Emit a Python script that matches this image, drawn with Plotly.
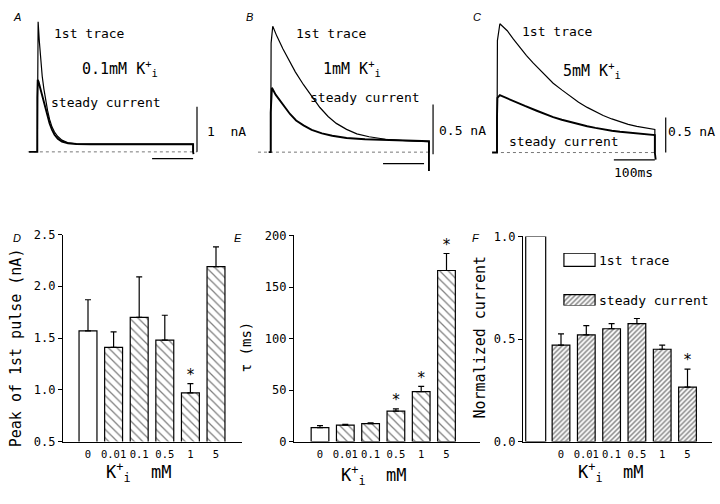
import plotly.graph_objects as go

W, H = 720, 504
FONT = "DejaVu Sans Mono"

# ---------------- data: bar panels ----------------
conc_labels = ["0", "0.01", "0.1", "0.5", "1", "5"]
peak_mean = [1.57, 1.41, 1.70, 1.48, 0.97, 2.19]
peak_sem = [0.30, 0.15, 0.39, 0.24, 0.09, 0.19]
peak_sig = [False, False, False, False, True, False]
tau_mean = [13.5, 16.0, 17.5, 29.5, 48.5, 166.0]
tau_sem = [2.0, 0.8, 0.6, 2.2, 5.0, 16.5]
tau_sig = [False, False, False, True, True, True]
norm_first = 1.0
norm_mean = [0.47, 0.52, 0.55, 0.575, 0.45, 0.265]
norm_sem = [0.055, 0.045, 0.025, 0.025, 0.02, 0.088]
norm_sig = [False, False, False, False, False, True]

# ---------------- data: current traces (time in ms, current in nA) ----------------
A_first_t = [0, 0.5, 2, 5, 8, 12, 16, 20, 25, 30, 36, 42, 50, 60, 75, 95, 130, 200, 300, 380, 380]
A_first_i = [0, 2.5, 2.89, 2.45, 2.08, 1.68, 1.40, 1.15, 0.92, 0.72, 0.55, 0.44, 0.34, 0.26, 0.20, 0.18, 0.17, 0.17, 0.17, 0.17, 0]
A_steady_t = [-20, 0, 0, 1, 3, 6, 10, 15, 20, 25, 30, 36, 42, 50, 60, 75, 95, 130, 250, 380, 380, 381]
A_steady_i = [0, 0, 1.2, 1.6, 1.56, 1.45, 1.30, 1.12, 0.95, 0.78, 0.63, 0.49, 0.38, 0.29, 0.23, 0.19, 0.175, 0.17, 0.17, 0.17, 0, -0.05]

B_first_t = [0, 1, 5, 15, 30, 45, 60, 80, 100, 120, 140, 160, 185, 210, 240, 280, 330, 386, 386]
B_first_i = [0, 1.1, 1.27, 1.17, 1.04, 0.92, 0.81, 0.68, 0.56, 0.45, 0.36, 0.29, 0.23, 0.185, 0.155, 0.13, 0.115, 0.105, 0]
B_steady_t = [-5, 0, 0, 1, 3, 12, 23, 35, 47, 62, 80, 100, 125, 150, 185, 230, 300, 386, 386]
B_steady_i = [0, 0, 0.4, 0.6, 0.65, 0.58, 0.515, 0.45, 0.385, 0.32, 0.27, 0.225, 0.19, 0.165, 0.143, 0.13, 0.118, 0.11, -0.19]

C_first_t = [0, 1, 7, 25, 40, 56, 72, 88, 105, 121, 137, 158, 178, 199, 220, 240, 259, 280, 300, 320, 341, 363, 385, 385]
C_first_i = [0, 1.6, 1.84, 1.74, 1.62, 1.50, 1.385, 1.28, 1.18, 1.08, 0.99, 0.895, 0.805, 0.72, 0.645, 0.585, 0.53, 0.48, 0.436, 0.403, 0.375, 0.35, 0.33, 0]
C_steady_t = [-12, 0, 0, 1, 7, 20, 40, 68, 97, 117, 137, 158, 178, 199, 220, 240, 259, 280, 300, 320, 341, 363, 385, 385, 387]
C_steady_i = [0, 0, 0.5, 0.78, 0.82, 0.785, 0.736, 0.665, 0.597, 0.55, 0.505, 0.468, 0.436, 0.404, 0.375, 0.352, 0.33, 0.312, 0.297, 0.285, 0.274, 0.262, 0.25, 0, -0.1]

scale_ms = 100
scale_nA = {"A": 1.0, "B": 0.5, "C": 0.5}


# ---------------- helpers ----------------
def px_x(p):
    return p / W


def px_y(p):
    return 1 - p / H


def dom_x(l, r):
    return [l / W, r / W]


def dom_y(t, b):
    return [1 - b / H, 1 - t / H]


def xr(l, r, p0, ppu):
    return [(l - p0) / ppu, (r - p0) / ppu]


def yr(t, b, p0, ppu):
    return [(p0 - b) / ppu, (p0 - t) / ppu]


fig = go.Figure()
layout = dict(
    width=W, height=H, autosize=False,
    margin=dict(l=0, r=0, t=0, b=0),
    paper_bgcolor="white", plot_bgcolor="rgba(0,0,0,0)",
    showlegend=False,
    font=dict(family=FONT, size=13, color="black"),
)
annotations = []


def ann(text, x, y, size=13, xanchor="center", yanchor="middle", angle=0, family=FONT, italic=False):
    annotations.append(dict(
        text=text, x=px_x(x), y=px_y(y), xref="paper", yref="paper",
        xanchor=xanchor, yanchor=yanchor, showarrow=False, textangle=angle,
        font=dict(family=family, size=size, color="black", style="italic" if italic else "normal"),
    ))


# ---------------- top panels: current traces ----------------
ms_px = 0.41
top = [
    dict(key="A", n="", xdom=(0, 240), t0=37.3, i0=149.0, nApx=46.3,
         first=(A_first_t, A_first_i), steady=(A_steady_t, A_steady_i),
         base=(-23, 390), vbar=(389.5, 0.0), hbar=(-0.15, 380)),
    dict(key="B", n="2", xdom=(240, 480), t0=270.7, i0=149.3, nApx=102.0,
         first=(B_first_t, B_first_i), steady=(B_steady_t, B_steady_i),
         base=(-31, 388), vbar=(396, -0.02), hbar=(-0.115, 374)),
    dict(key="C", n="3", xdom=(480, 720), t0=497.0, i0=149.7, nApx=72.0,
         first=(C_first_t, C_first_i), steady=(C_steady_t, C_steady_i),
         base=(-5, 390), vbar=(411.5, 0.0), hbar=(-0.105, 385)),
]
for p in top:
    xa, ya = "x" + p["n"], "y" + p["n"]
    layout["xaxis" + p["n"]] = dict(domain=dom_x(*p["xdom"]), range=xr(p["xdom"][0], p["xdom"][1], p["t0"], ms_px),
                                    visible=False, fixedrange=True)
    layout["yaxis" + p["n"]] = dict(domain=dom_y(0, 200), range=yr(0, 200, p["i0"], p["nApx"]),
                                    visible=False, fixedrange=True)
    # dotted zero line
    fig.add_trace(go.Scatter(x=list(p["base"]), y=[0, 0], mode="lines", xaxis=xa, yaxis=ya,
                             line=dict(color="#777777", width=1, dash="dot"), hoverinfo="skip"))
    fig.add_trace(go.Scatter(x=p["first"][0], y=p["first"][1], mode="lines", xaxis=xa, yaxis=ya,
                             line=dict(color="black", width=1.2)))
    fig.add_trace(go.Scatter(x=p["steady"][0], y=p["steady"][1], mode="lines", xaxis=xa, yaxis=ya,
                             line=dict(color="black", width=1.9)))
    # scale bars
    vt, vb = p["vbar"]
    fig.add_trace(go.Scatter(x=[vt, vt], y=[vb, vb + scale_nA[p["key"]]], mode="lines", xaxis=xa, yaxis=ya,
                             line=dict(color="black", width=1.2)))
    hy, he = p["hbar"]
    fig.add_trace(go.Scatter(x=[he - scale_ms, he], y=[hy, hy], mode="lines", xaxis=xa, yaxis=ya,
                             line=dict(color="black", width=1.2)))

K_TXT = "K<sup>+</sup><sub>i</sub>"
# texts panel A
ann("1st trace", 89, 27)
ann("0.1mM " + K_TXT, 120, 63, size=15)
ann("steady current", 106, 98)
ann("1\u00a0\u00a0nA", 205, 128, xanchor="left")
# panel B
ann("1st trace", 331, 27)
ann("1mM " + K_TXT, 352, 63, size=15)
ann("steady current", 365, 93)
ann("0.5\u00a0nA", 437, 127, xanchor="left")
# panel C
ann("1st trace", 557, 25)
ann("5mM " + K_TXT, 592, 65, size=15)
ann("steady current", 564, 138)
ann("0.5\u00a0nA", 666, 128, xanchor="left")
ann("100ms", 633, 170)

# panel letters
for letter, (lx, ly) in zip("ABCDEF", [(17, 10), (249, 10), (477, 10), (17, 238), (238, 238), (476, 238)]):
    ann(letter, lx, ly, size=11, family="Liberation Sans", italic=True)

# ---------------- bottom panels: bar charts ----------------
BAR_W = 0.70
hatch_wide = dict(shape="\\", size=6, solidity=0.21, fgcolor="black", bgcolor="white")
hatch_dense = dict(shape="/", size=3.5, solidity=0.42, fgcolor="black", bgcolor="white")
star_font = dict(family=FONT, size=15, color="black")


def bar_axes(n, xdom, ydom, xrange_, yrange_, ytick, tickvals):
    layout["xaxis" + n] = dict(domain=dom_x(*xdom), range=xrange_, showline=True, linecolor="black", linewidth=1.3,
                               ticks="outside", ticklen=3, tickcolor="rgba(0,0,0,0)", tickangle=0,
                               tickvals=tickvals, ticktext=conc_labels, showgrid=False, zeroline=False,
                               tickfont=dict(family=FONT, size=10.5), fixedrange=True, anchor="y" + n)
    layout["yaxis" + n] = dict(domain=dom_y(*ydom), range=yrange_, showline=True, linecolor="black", linewidth=1.3,
                               ticks="outside", ticklen=4, tickwidth=1, tickcolor="black",
                               dtick=ytick, showgrid=False, zeroline=False,
                               tickfont=dict(family=FONT, size=12), fixedrange=True, anchor="x" + n)


def add_bars(n, xs, means, sems, sigs, patterns, width):
    fig.add_trace(go.Bar(
        x=xs, y=means, width=width, xaxis="x" + n, yaxis="y" + n,
        marker=dict(color="white", line=dict(color="black", width=1.2),
                    pattern=dict(shape=[pt["shape"] for pt in patterns], size=patterns[-1]["size"],
                                 solidity=patterns[-1]["solidity"], fgcolor="black", bgcolor="white")),
        error_y=dict(type="data", array=sems, arrayminus=[0] * len(sems), symmetric=False,
                     color="black", thickness=1.2, width=3),
    ))
    sx = [x for x, s in zip(xs, sigs) if s]
    sy = [m + e for m, e, s in zip(means, sems, sigs) if s]
    fig.add_trace(go.Scatter(x=sx, y=sy, mode="text", text=["*"] * len(sx), textposition="top center",
                             textfont=star_font, xaxis="x" + n, yaxis="y" + n, cliponaxis=False))


idx = list(range(len(conc_labels)))
pat_D = [dict(shape="", size=6, solidity=0.21)] + [hatch_wide] * (len(idx) - 1)

# D: peak of 1st pulse
bar_axes("4", (63, 242), (234, 447), xr(63, 242, 88, 25.6), [0.5, 2.5], 0.5, idx)
layout["yaxis4"]["tickformat"] = ".1f"
add_bars("4", idx, peak_mean, peak_sem, peak_sig, pat_D, BAR_W)

# E: tau
bar_axes("5", (294, 480), (235, 447), xr(294, 480, 320, 25.3), [0, 200], 50, idx)
add_bars("5", idx, tau_mean, tau_sem, tau_sig, pat_D, BAR_W)

# F: normalized current
f_idx = [i + 1 for i in idx]
bar_axes("6", (523, 712), (236, 447), xr(523, 712, 535.7, 25.3), [0, 1.0], 0.5, f_idx)
layout["yaxis6"]["tickformat"] = ".1f"
fig.add_trace(go.Bar(x=[0], y=[norm_first], width=0.79, xaxis="x6", yaxis="y6",
                     marker=dict(color="white", line=dict(color="black", width=1.2))))
add_bars("6", f_idx, norm_mean, norm_sem, norm_sig, [hatch_dense] * len(f_idx), BAR_W)

# legend of F (two swatches)
layout["xaxis7"] = dict(domain=dom_x(563, 596), range=[-0.03, 1.03], visible=False, fixedrange=True, anchor="y7")
layout["yaxis7"] = dict(domain=dom_y(253, 307), range=yr(253, 307, 301.5, 41.5), visible=False, fixedrange=True,
                        anchor="x7")
fig.add_trace(go.Bar(x=[1], y=[1], width=0.33, orientation="h", xaxis="x7", yaxis="y7",
                     marker=dict(color="white", line=dict(color="black", width=1.2))))
fig.add_trace(go.Bar(x=[1], y=[0], width=0.27, orientation="h", xaxis="x7", yaxis="y7",
                     marker=dict(color="white", line=dict(color="black", width=1.2), pattern=hatch_dense)))
ann("1st trace", 597, 261, xanchor="left")
ann("steady current", 597, 302, xanchor="left")

# axis titles
ann("Peak of 1st pulse (nA)", 16, 351, size=15, angle=-90)
ann("\u03c4 (ms)", 246, 350, size=14, angle=-90)
ann("Normalized current", 480, 340, size=15, angle=-90)
XT = K_TXT + "\u00a0\u00a0mM"
ann(XT, 139, 479, size=17)
ann(XT, 374, 482, size=17)
ann(XT, 611, 479, size=17)

layout["annotations"] = annotations
layout["barmode"] = "overlay"
fig.update_layout(**layout)
fig.write_html("out.html", config={"displayModeBar": False},
               post_script="document.body.style.margin='0';document.body.style.padding='0';")
